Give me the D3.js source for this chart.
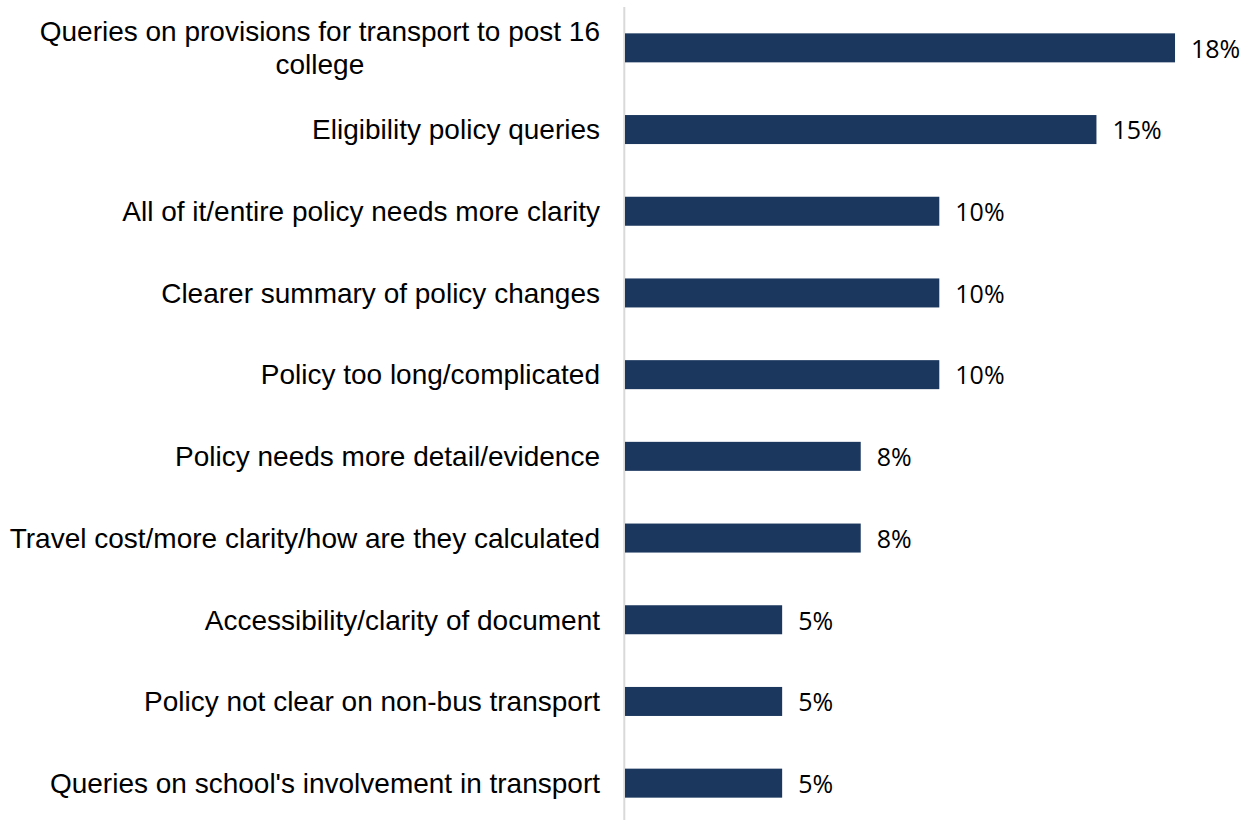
<!DOCTYPE html>
<html><head><meta charset="utf-8">
<script src="https://cdn.jsdelivr.net/npm/d3@7"></script>
<style>html,body{margin:0;padding:0;background:#fff;}</style>
</head><body>
<svg id="chart" width="1256" height="820"></svg>
<script>
const categories = [
  "Queries on provisions for transport to post 16 college",
  "Eligibility policy queries",
  "All of it/entire policy needs more clarity",
  "Clearer summary of policy changes",
  "Policy too long/complicated",
  "Policy needs more detail/evidence",
  "Travel cost/more clarity/how are they calculated",
  "Accessibility/clarity of document",
  "Policy not clear on non-bus transport",
  "Queries on school's involvement in transport"
];
const values = [17.5, 15, 10, 10, 10, 7.5, 7.5, 5, 5, 5];
const valueLabels = ["18%", "15%", "10%", "10%", "10%", "8%", "8%", "5%", "5%", "5%"];
const wrapLines = {"Queries on provisions for transport to post 16 college": ["Queries on provisions for transport to post 16", "college"]};

const svg = d3.select("#chart");
const x = d3.scaleLinear().domain([0, 20]).range([625, 1253.6]);
const y = d3.scaleBand().domain(categories).range([7, 824]).paddingInner(0.645).paddingOuter(0.3225);

svg.append("line").attr("x1", 624.3).attr("x2", 624.3).attr("y1", 7).attr("y2", 824)
  .attr("stroke", "#d9d9d9").attr("stroke-width", 2);

svg.selectAll("rect.bar").data(categories).join("rect").attr("class", "bar")
  .attr("x", x(0)).attr("y", d => y(d)).attr("height", y.bandwidth())
  .attr("width", (d, i) => x(values[i]) - x(0)).attr("fill", "#1b375e");

svg.selectAll("text.val").data(categories).join("text").attr("class", "val")
  .attr("x", (d, i) => x(values[i]) + 16).attr("y", d => y(d) + y.bandwidth() / 2 + 1)
  .attr("dy", "0.35em").attr("font-family", "Open Sans").attr("font-size", 25)
  .attr("fill", "#000").text((d, i) => valueLabels[i]);

const lab = svg.selectAll("text.cat").data(categories).join("text").attr("class", "cat")
  .attr("text-anchor", "middle").attr("font-family", "Liberation Sans, Arial").attr("font-size", 28)
  .attr("fill", "#000");
lab.each(function(d) {
  const lines = wrapLines[d] || [d];
  const t = d3.select(this);
  const cy = y(d) + y.bandwidth() / 2;
  const lh = 33;
  lines.forEach((ln, k) => {
    t.append("tspan").attr("x", 0).attr("y", cy + (k - (lines.length - 1) / 2) * lh).attr("dy", "0.35em").text(ln);
  });
});
// right-align each block, center-align lines within block
lab.each(function() {
  const t = d3.select(this);
  const tsp = t.selectAll("tspan").nodes();
  const w = d3.max(tsp, n => n.getComputedTextLength());
  const cx = 600 - w / 2;
  t.selectAll("tspan").attr("x", cx);
});
</script>
</body></html>
